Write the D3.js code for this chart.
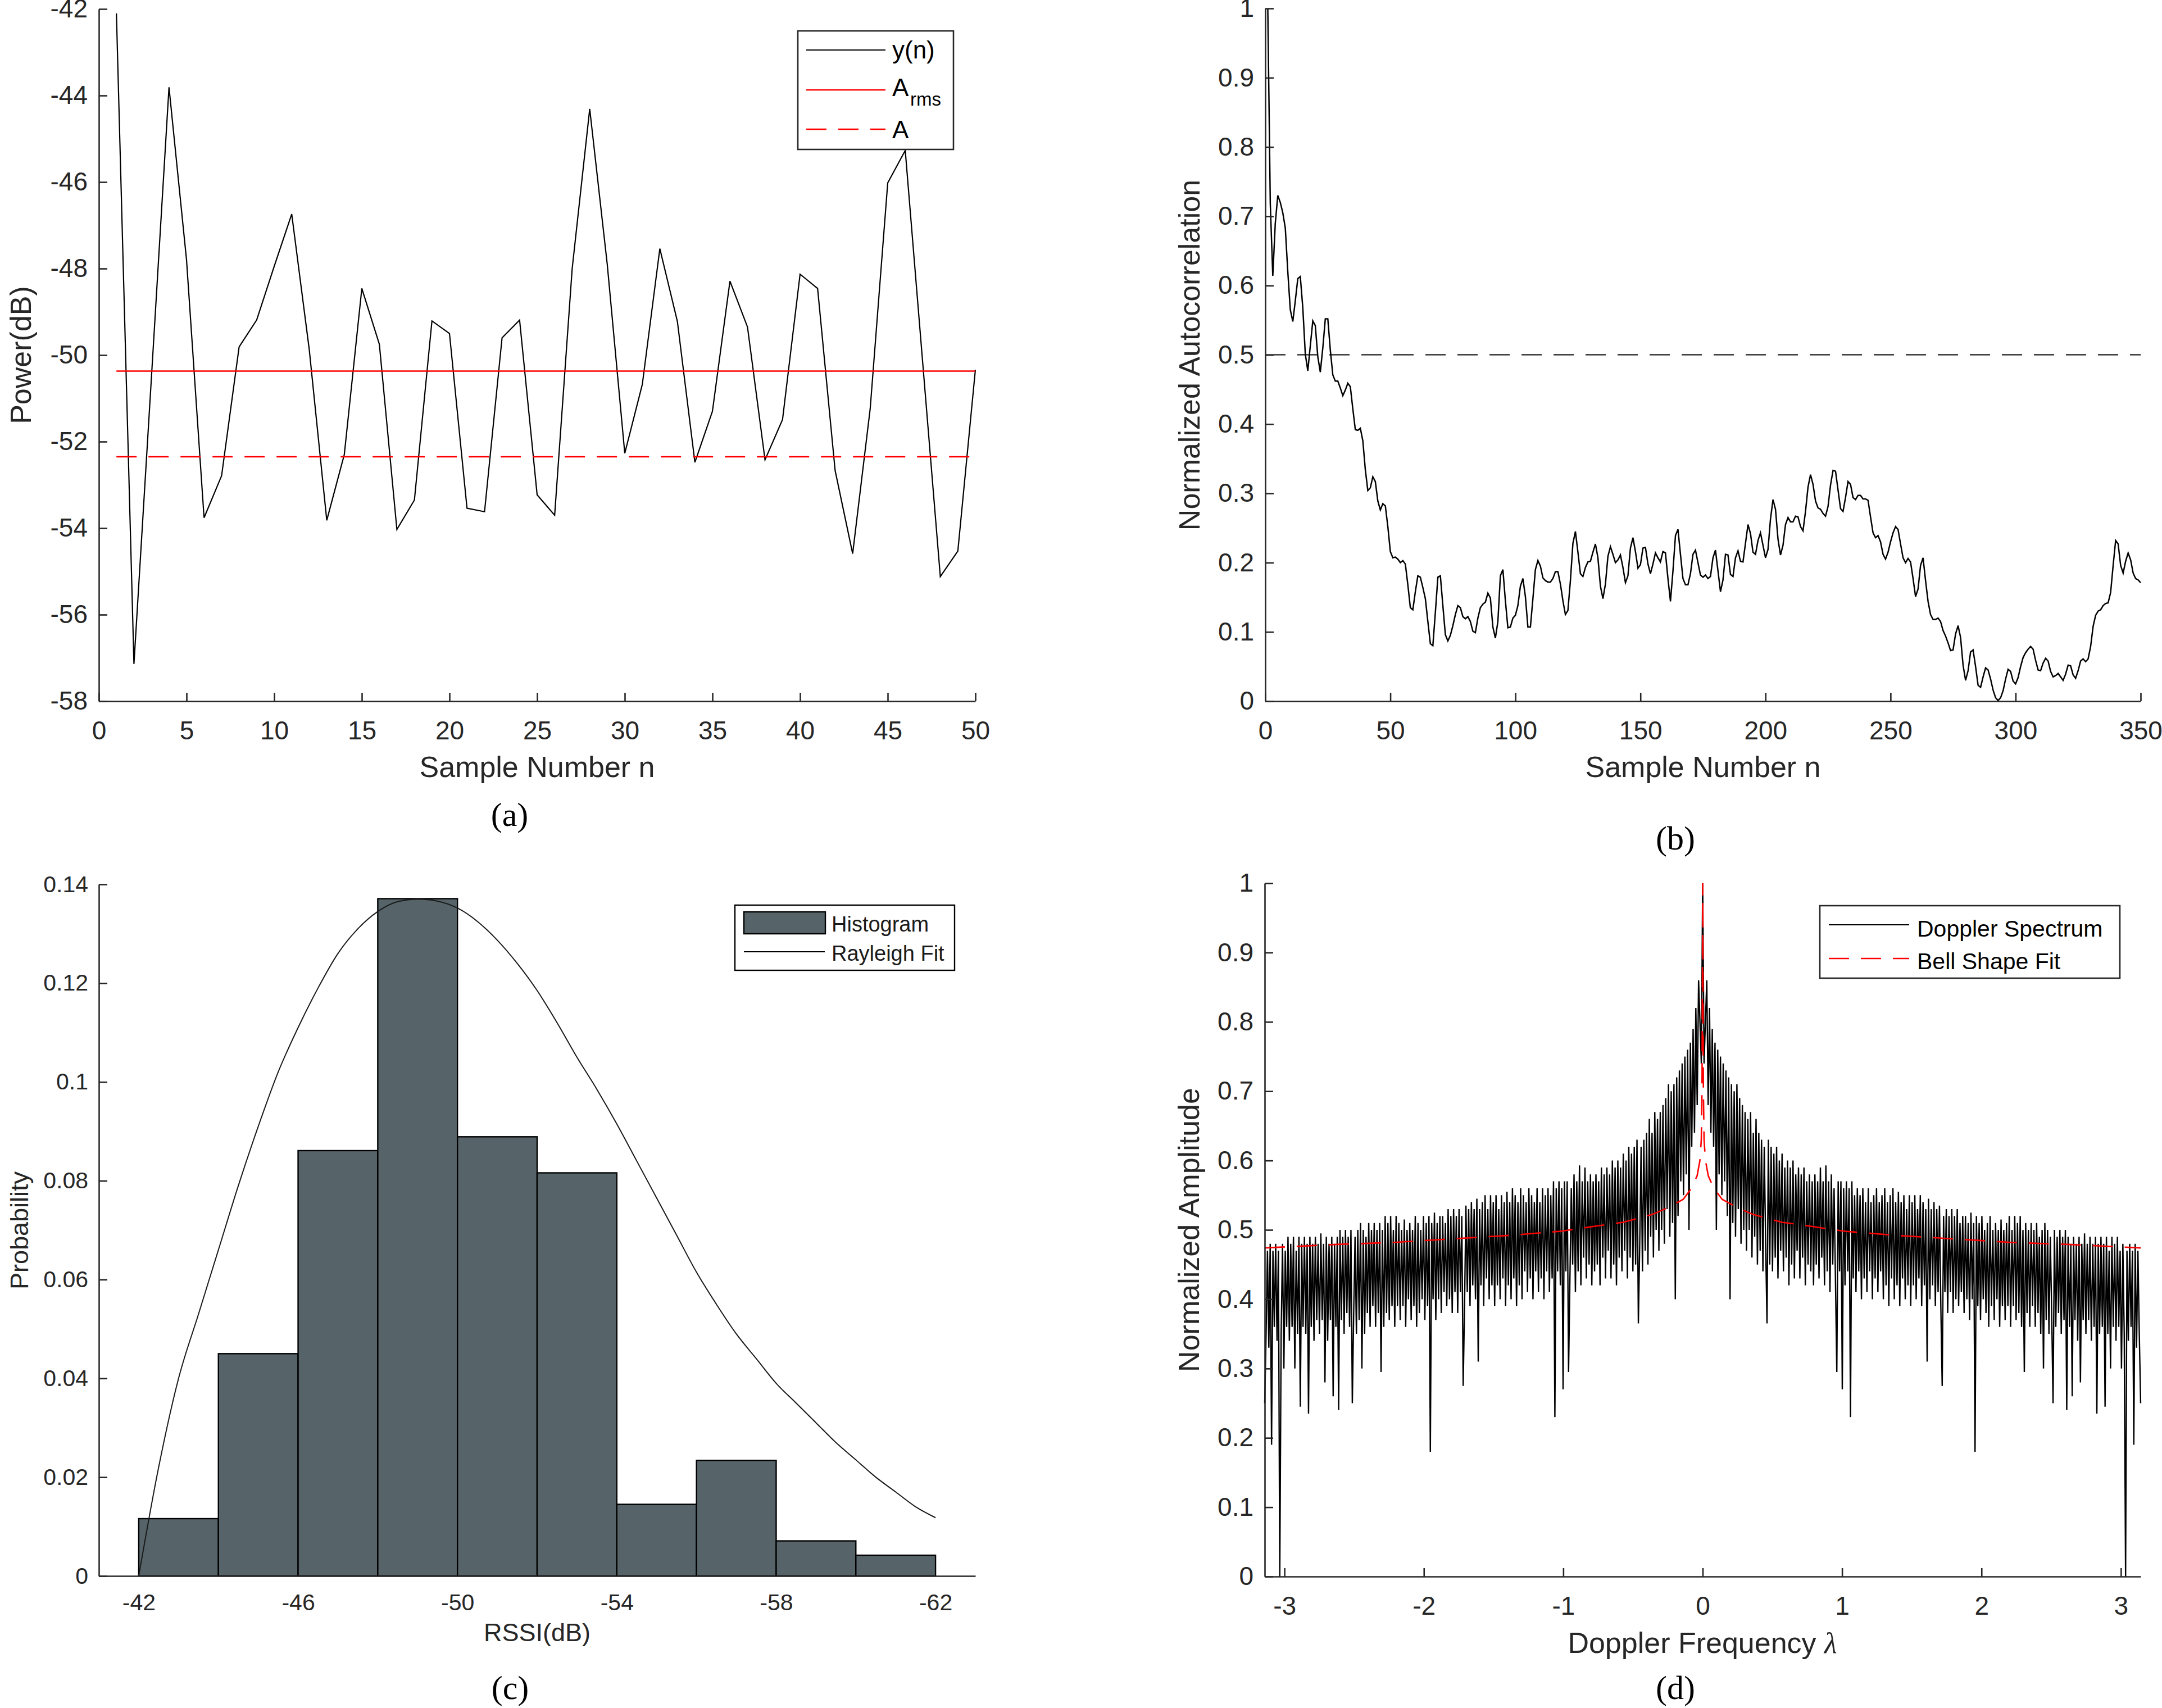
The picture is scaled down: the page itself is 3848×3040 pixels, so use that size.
<!DOCTYPE html>
<html><head><meta charset="utf-8">
<script src="https://cdnjs.cloudflare.com/ajax/libs/d3/7.8.5/d3.min.js"></script>
<style>body{margin:0;background:#fff}</style>
</head><body>
<script>
// ---------- (a) received power ----------
const powerDb = [-42.1,-57.14,-50.5,-43.81,-47.8,-53.76,-52.79,-49.81,-49.19,-47.95,
-46.74,-49.87,-53.82,-52.3,-48.46,-49.75,-54.03,-53.35,-49.21,-49.5,
-53.54,-53.62,-49.6,-49.19,-53.23,-53.7,-48.0,-44.31,-47.9,-52.27,
-50.68,-47.54,-49.22,-52.48,-51.3,-48.29,-49.35,-52.42,-51.49,-48.13,
-48.46,-52.67,-54.59,-51.24,-46.02,-45.27,-50.2,-55.12,-54.53,-50.34];
const aRmsLevel = -50.37;
const aMeanLevel = -52.35;
const powerYTicks = [-58,-56,-54,-52,-50,-48,-46,-44,-42];
const powerXTicks = [0,5,10,15,20,25,30,35,40,45,50];

// ---------- (b) normalized autocorrelation ----------
const autocorr = [1.0,0.718,0.614,0.69,0.73,0.72,0.705,0.683,0.62,0.565,
0.548,0.578,0.61,0.613,0.568,0.501,0.477,0.513,0.549,0.542,
0.497,0.475,0.51,0.552,0.552,0.507,0.471,0.462,0.462,0.452,
0.441,0.449,0.459,0.454,0.422,0.392,0.391,0.394,0.376,0.334,
0.304,0.308,0.324,0.317,0.289,0.276,0.285,0.282,0.252,0.216,
0.207,0.208,0.205,0.2,0.203,0.198,0.168,0.135,0.132,0.158,
0.181,0.179,0.164,0.148,0.115,0.083,0.08,0.128,0.179,0.181,
0.138,0.096,0.087,0.095,0.109,0.125,0.138,0.135,0.122,0.119,
0.122,0.115,0.101,0.099,0.12,0.135,0.14,0.143,0.156,0.149,
0.107,0.091,0.115,0.181,0.19,0.145,0.106,0.107,0.12,0.124,
0.138,0.166,0.177,0.151,0.107,0.107,0.148,0.19,0.203,0.195,
0.178,0.174,0.172,0.172,0.177,0.187,0.187,0.169,0.145,0.125,
0.131,0.174,0.228,0.245,0.215,0.184,0.18,0.193,0.201,0.202,
0.215,0.227,0.207,0.166,0.148,0.169,0.209,0.223,0.212,0.2,
0.204,0.211,0.193,0.171,0.181,0.221,0.236,0.216,0.192,0.197,
0.221,0.222,0.198,0.184,0.198,0.214,0.207,0.201,0.216,0.214,
0.177,0.144,0.188,0.239,0.248,0.212,0.177,0.168,0.168,0.184,
0.212,0.218,0.2,0.182,0.179,0.182,0.177,0.18,0.207,0.218,
0.188,0.158,0.175,0.212,0.211,0.183,0.18,0.207,0.217,0.202,
0.201,0.228,0.255,0.242,0.215,0.212,0.232,0.243,0.225,0.207,
0.219,0.263,0.291,0.277,0.234,0.211,0.225,0.255,0.265,0.259,
0.259,0.267,0.266,0.252,0.246,0.274,0.309,0.327,0.313,0.289,
0.279,0.277,0.271,0.267,0.281,0.312,0.333,0.332,0.305,0.278,
0.274,0.294,0.317,0.313,0.294,0.291,0.297,0.297,0.292,0.292,
0.29,0.266,0.243,0.236,0.239,0.23,0.212,0.205,0.215,0.23,
0.243,0.252,0.248,0.227,0.207,0.2,0.206,0.201,0.177,0.151,
0.162,0.196,0.207,0.174,0.144,0.125,0.118,0.118,0.12,0.115,
0.102,0.094,0.084,0.073,0.074,0.097,0.109,0.092,0.052,0.03,
0.044,0.071,0.074,0.05,0.023,0.02,0.035,0.048,0.045,0.032,
0.016,0.005,0.001,0.005,0.015,0.032,0.046,0.043,0.029,0.025,
0.034,0.05,0.063,0.07,0.075,0.079,0.075,0.059,0.045,0.044,
0.055,0.062,0.058,0.043,0.035,0.037,0.04,0.035,0.03,0.039,
0.052,0.051,0.038,0.033,0.044,0.058,0.061,0.057,0.061,0.079,
0.108,0.124,0.13,0.132,0.138,0.141,0.142,0.157,0.196,0.232,
0.227,0.196,0.185,0.202,0.214,0.204,0.185,0.177,0.175,0.171];
const corrThreshold = 0.5;
const corrXTicks = [0,50,100,150,200,250,300,350];
const unitYTicks = [0,0.1,0.2,0.3,0.4,0.5,0.6,0.7,0.8,0.9,1];

// ---------- (c) RSSI histogram ----------
const binStart = [-42,-44,-46,-48,-50,-52,-54,-56,-58,-60];
const binProb = [0.0116,0.045,0.0861,0.1371,0.0889,0.0816,0.0145,0.0234,0.0071,0.0042];
const fitRssi = [-42.0,-42.5,-43.0,-43.5,-44.0,-44.5,-45.0,-45.5,-46.0,-46.5,-47.0,-47.5,-48.0,-48.5,-49.0,-49.5,-50.0,-50.5,-51.0,-51.5,-52.0,-52.5,-53.0,-53.5,-54.0,-54.5,-55.0,-55.5,-56.0,-56.5,-57.0,-57.5,-58.0,-58.5,-59.0,-59.5,-60.0,-60.5,-61.0,-61.5,-62.0];
const fitProb = [0,0.022,0.040,0.053,0.066,0.079,0.091,0.102,0.111,0.119,0.126,0.131,0.1345,0.1365,0.137,0.1366,0.1352,0.1325,0.1287,0.124,0.1185,0.112,0.105,0.0985,0.0915,0.084,0.0765,0.069,0.0615,0.055,0.049,0.044,0.039,0.035,0.031,0.027,0.0235,0.020,0.017,0.014,0.0118];
const rssiTicks = [-42,-46,-50,-54,-58,-62];
const probTicks = [0,0.02,0.04,0.06,0.08,0.1,0.12,0.14];

// ---------- (d) Doppler spectrum (positive side; the plot is mirrored about 0) ----------
const dopplerHalf = [0.74,0.80,0.86,0.68,0.82,0.64,0.79,0.62,0.77,0.50,
0.76,0.58,0.75,0.55,0.74,0.57,0.73,0.52,0.72,0.40,
0.71,0.51,0.70,0.49,0.71,0.53,0.69,0.48,0.68,0.50,
0.67,0.47,0.66,0.50,0.67,0.46,0.64,0.49,0.66,0.45,
0.64,0.47,0.63,0.44,0.62,0.48,0.365,0.63,0.45,0.62,
0.44,0.61,0.46,0.62,0.43,0.60,0.47,0.61,0.44,0.59,
0.46,0.60,0.42,0.59,0.45,0.60,0.43,0.58,0.47,0.59,
0.43,0.58,0.46,0.59,0.42,0.57,0.45,0.58,0.44,0.57,
0.42,0.58,0.45,0.57,0.43,0.59,0.46,0.57,0.42,0.593,
0.44,0.57,0.41,0.58,0.45,0.56,0.43,0.295,0.57,0.44,
0.57,0.27,0.56,0.42,0.57,0.44,0.56,0.23,0.57,0.43,
0.55,0.41,0.56,0.44,0.55,0.40,0.56,0.43,0.54,0.41,
0.56,0.44,0.54,0.40,0.55,0.43,0.56,0.41,0.54,0.44,
0.55,0.40,0.56,0.42,0.54,0.39,0.55,0.43,0.56,0.40,
0.54,0.42,0.555,0.39,0.54,0.43,0.55,0.40,0.53,0.42,
0.55,0.39,0.54,0.42,0.55,0.40,0.53,0.43,0.55,0.39,
0.54,0.42,0.53,0.31,0.545,0.40,0.53,0.42,0.54,0.39,
0.53,0.41,0.535,0.39,0.275,0.52,0.41,0.53,0.38,0.52,
0.41,0.53,0.38,0.52,0.40,0.53,0.39,0.51,0.41,0.52,
0.38,0.52,0.40,0.51,0.37,0.525,0.40,0.51,0.18,0.52,
0.39,0.51,0.37,0.52,0.40,0.50,0.38,0.51,0.36,0.52,
0.39,0.50,0.37,0.51,0.40,0.50,0.36,0.515,0.39,0.50,
0.37,0.51,0.39,0.52,0.36,0.50,0.39,0.52,0.37,0.51,
0.38,0.52,0.36,0.50,0.295,0.51,0.38,0.50,0.36,0.51,
0.39,0.50,0.36,0.51,0.38,0.49,0.35,0.50,0.30,0.51,
0.37,0.50,0.35,0.49,0.38,0.25,0.50,0.36,0.49,0.38,
0.50,0.35,0.49,0.37,0.50,0.24,0.49,0.36,0.48,0.26,
0.49,0.37,0.48,0.34,0.49,0.28,0.48,0.37,0.495,0.35,
0.48,0.37,0.49,0.34,0.48,0.36,0.49,0.235,0.48,0.35,
0.49,0.36,0.48,0.245,0.49,0.35,0.47,0.30,0.49,0.36,
0.48,0.34,0.49,0.36,0.47,0.30,0.48,0.35,0.0,0.47,
0.34,0.48,0.36,0.47,0.19,0.48,0.33,0.47,0.35,0.25];
const dopplerPeak = 1.0;
const bellLambda = [0,0.002,0.005,0.01,0.02,0.04,0.08,0.14,0.26,0.365,0.57,0.78,1.02,1.39,1.8,2.21,2.62,3.1416];
const bellValue = [1.0,0.85,0.70,0.63,0.60,0.578,0.56,0.544,0.531,0.522,0.511,0.505,0.498,0.492,0.487,0.482,0.479,0.474];
const lambdaTicks = [-3,-2,-1,0,1,2,3];

// ================= drawing =================
const W = 3848, H = 3040;
const AX = "#262626";
const SANS = "'Liberation Sans', Arial, Helvetica, sans-serif";
const SERIF = "'Liberation Serif', 'Times New Roman', serif";
const TICK_FS = 46, TITLE_FS = 52;
const DASH = "36,21";

const svg = d3.select("body").append("svg").attr("width", W).attr("height", H);
svg.append("rect").attr("width", W).attr("height", H).attr("fill", "#fff");

function drawAxes(x, y, o) {
  const g = svg.append("g");
  const y0 = y.range()[0], x0 = x.range()[0];
  const xa = d3.axisBottom(x).tickValues(o.xTicks).tickFormat(d => String(d))
    .tickSizeInner(o.xTickLen === 0 ? 0 : -15).tickSizeOuter(0).tickPadding(o.xPad);
  const ya = d3.axisLeft(y).tickValues(o.yTicks).tickFormat(d => String(d))
    .tickSizeInner(-15).tickSizeOuter(0).tickPadding(o.yPad);
  const gx = g.append("g").attr("transform", `translate(0,${y0})`).call(xa);
  const gy = g.append("g").attr("transform", `translate(${x0},0)`).call(ya);
  [gx, gy].forEach(a => {
    a.select(".domain").attr("stroke", AX).attr("stroke-width", 2.6);
    a.selectAll(".tick line").attr("stroke", AX).attr("stroke-width", 2.6);
    a.selectAll(".tick text").attr("fill", AX).attr("font-family", SANS).attr("font-size", o.fs);
  });
  return g;
}
function label(txt, x, y, fs, rot) {
  return svg.append("text").attr("font-family", SANS).attr("font-size", fs)
    .attr("fill", AX).attr("text-anchor", "middle")
    .attr("transform", `translate(${x},${y})` + (rot ? " rotate(-90)" : ""))
    .text(txt);
}
function caption(txt, x, y) {
  svg.append("text").attr("font-family", SERIF).attr("font-size", 60).attr("fill", "#000")
    .attr("text-anchor", "middle").attr("x", x).attr("y", y).text(txt);
}

// ---------- (a) ----------
{
  const x = d3.scaleLinear().domain([0, 50]).range([176, 1736]);
  const y = d3.scaleLinear().domain([-58, -42]).range([1248, 16]);
  const pts = powerDb.map((v, i) => [i + 1, v]);
  const line = d3.line().x(d => x(d[0])).y(d => y(d[1]));
  svg.append("path").attr("d", line(pts)).attr("fill", "none").attr("stroke", "#000").attr("stroke-width", 2.2);
  svg.append("line").attr("x1", x(1)).attr("x2", x(50)).attr("y1", y(aRmsLevel)).attr("y2", y(aRmsLevel))
    .attr("stroke", "#ff0000").attr("stroke-width", 2.6);
  svg.append("line").attr("x1", x(1)).attr("x2", x(50)).attr("y1", y(aMeanLevel)).attr("y2", y(aMeanLevel))
    .attr("stroke", "#ff0000").attr("stroke-width", 2.6).attr("stroke-dasharray", DASH);
  drawAxes(x, y, {xTicks: powerXTicks, yTicks: powerYTicks, xPad: 35, yPad: 20, fs: TICK_FS});
  label("Power(dB)", 55, 632, TITLE_FS, true);
  label("Sample Number n", 956, 1383, TITLE_FS, false);
  const lg = svg.append("g");
  lg.append("rect").attr("x", 1420).attr("y", 55).attr("width", 277).attr("height", 211)
    .attr("fill", "#fff").attr("stroke", AX).attr("stroke-width", 2.6);
  lg.append("line").attr("x1", 1435).attr("x2", 1576).attr("y1", 89).attr("y2", 89).attr("stroke", "#000").attr("stroke-width", 2.2);
  lg.append("line").attr("x1", 1435).attr("x2", 1576).attr("y1", 160).attr("y2", 160).attr("stroke", "#ff0000").attr("stroke-width", 2.6);
  lg.append("line").attr("x1", 1435).attr("x2", 1576).attr("y1", 230).attr("y2", 230).attr("stroke", "#ff0000").attr("stroke-width", 2.6).attr("stroke-dasharray", DASH);
  const lt = (t, xx, yy, fs) => lg.append("text").attr("x", xx).attr("y", yy).attr("font-family", SANS).attr("font-size", fs).attr("fill", "#000").text(t);
  lt("y(n)", 1588, 104, 44);
  lt("A", 1588, 171, 44);
  lt("rms", 1620, 188, 33);
  lt("A", 1588, 246, 44);
  caption("(a)", 907, 1470);
}

// ---------- (b) ----------
{
  const x = d3.scaleLinear().domain([0, 350]).range([2252, 3810]);
  const y = d3.scaleLinear().domain([0, 1]).range([1248, 15]);
  const pts = autocorr.map((v, i) => [i + 1, v]);
  const line = d3.line().x(d => x(d[0])).y(d => y(d[1]));
  svg.append("line").attr("x1", x(0)).attr("x2", x(350)).attr("y1", y(corrThreshold)).attr("y2", y(corrThreshold))
    .attr("stroke", "#000").attr("stroke-width", 2.2).attr("stroke-dasharray", DASH);
  svg.append("path").attr("d", line(pts)).attr("fill", "none").attr("stroke", "#000").attr("stroke-width", 2.5);
  drawAxes(x, y, {xTicks: corrXTicks, yTicks: unitYTicks, xPad: 35, yPad: 20, fs: TICK_FS});
  label("Normalized Autocorrelation", 2135, 632, TITLE_FS, true);
  label("Sample Number n", 3031, 1383, TITLE_FS, false);
  caption("(b)", 2982, 1512);
}

// ---------- (c) ----------
{
  const x = d3.scaleLinear().domain([-41, -63]).range([176, 1736]);
  const y = d3.scaleLinear().domain([0, 0.14]).range([2805, 1574]);
  const BAR = "#566469";
  svg.append("g").selectAll("rect").data(binStart.map((b, i) => ({b, p: binProb[i]}))).join("rect")
    .attr("x", d => x(d.b)).attr("width", d => x(d.b - 2) - x(d.b))
    .attr("y", d => y(d.p)).attr("height", d => y(0) - y(d.p))
    .attr("fill", BAR).attr("stroke", "#000").attr("stroke-width", 2.4);
  const line = d3.line().curve(d3.curveMonotoneX).x(d => x(d[0])).y(d => y(d[1]));
  svg.append("path").attr("d", line(fitRssi.map((v, i) => [v, fitProb[i]])))
    .attr("fill", "none").attr("stroke", "#1a1a1a").attr("stroke-width", 2);
  drawAxes(x, y, {xTicks: rssiTicks, yTicks: probTicks, xPad: 32, yPad: 19, fs: 41, xTickLen: 0});
  label("Probability", 50, 2190, 45, true);
  label("RSSI(dB)", 956, 2921, 45, false);
  const lg = svg.append("g");
  lg.append("rect").attr("x", 1308).attr("y", 1611).attr("width", 391).attr("height", 116)
    .attr("fill", "#fff").attr("stroke", "#000").attr("stroke-width", 2.4);
  lg.append("rect").attr("x", 1324).attr("y", 1623).attr("width", 145).attr("height", 39)
    .attr("fill", BAR).attr("stroke", "#000").attr("stroke-width", 2.4);
  lg.append("line").attr("x1", 1324).attr("x2", 1468).attr("y1", 1694).attr("y2", 1694).attr("stroke", "#000").attr("stroke-width", 2);
  const lt = (t, xx, yy) => lg.append("text").attr("x", xx).attr("y", yy).attr("font-family", SANS).attr("font-size", 38).attr("fill", "#1a1a1a").text(t);
  lt("Histogram", 1480, 1658);
  lt("Rayleigh Fit", 1480, 1710);
  caption("(c)", 908, 3024);
}

// ---------- (d) ----------
{
  const x = d3.scaleLinear().domain([-Math.PI, Math.PI]).range([2251, 3810]);
  const y = d3.scaleLinear().domain([0, 1]).range([2806, 1572]);
  const K = dopplerHalf.length;
  const step = Math.PI / K;
  const pts = [];
  for (let k = K; k >= 1; k--) pts.push([-k * step, dopplerHalf[k - 1]]);
  pts.push([0, dopplerPeak]);
  for (let k = 1; k <= K; k++) pts.push([k * step, dopplerHalf[k - 1]]);
  const line = d3.line().x(d => x(d[0])).y(d => y(d[1]));
  svg.append("path").attr("d", line(pts)).attr("fill", "none").attr("stroke", "#000").attr("stroke-width", 2.4);
  const bell = [];
  for (let i = bellLambda.length - 1; i >= 1; i--) bell.push([-bellLambda[i], bellValue[i]]);
  for (let i = 0; i < bellLambda.length; i++) bell.push([bellLambda[i], bellValue[i]]);
  svg.append("path").attr("d", line(bell)).attr("fill", "none").attr("stroke", "#ff0000").attr("stroke-width", 2.6).attr("stroke-dasharray", DASH);
  drawAxes(x, y, {xTicks: lambdaTicks, yTicks: unitYTicks, xPad: 35, yPad: 20, fs: TICK_FS});
  label("Normalized Amplitude", 2134, 2189, TITLE_FS, true);
  const t = svg.append("text").attr("font-family", SANS).attr("font-size", TITLE_FS).attr("fill", AX)
    .attr("text-anchor", "middle").attr("x", 3030).attr("y", 2942);
  t.append("tspan").text("Doppler Frequency ");
  t.append("tspan").attr("font-style", "italic").attr("font-family", SERIF).text("λ");
  const lg = svg.append("g");
  lg.append("rect").attr("x", 3239).attr("y", 1612).attr("width", 534).attr("height", 129)
    .attr("fill", "#fff").attr("stroke", AX).attr("stroke-width", 2.6);
  lg.append("line").attr("x1", 3255).attr("x2", 3398).attr("y1", 1646).attr("y2", 1646).attr("stroke", "#000").attr("stroke-width", 2.2);
  lg.append("line").attr("x1", 3255).attr("x2", 3398).attr("y1", 1706).attr("y2", 1706).attr("stroke", "#ff0000").attr("stroke-width", 2.6).attr("stroke-dasharray", DASH);
  const lt = (tx, xx, yy) => lg.append("text").attr("x", xx).attr("y", yy).attr("font-family", SANS).attr("font-size", 41).attr("fill", "#000").text(tx);
  lt("Doppler Spectrum", 3412, 1667);
  lt("Bell Shape Fit", 3412, 1725);
  caption("(d)", 2982, 3024);
}
</script>
</body></html>
